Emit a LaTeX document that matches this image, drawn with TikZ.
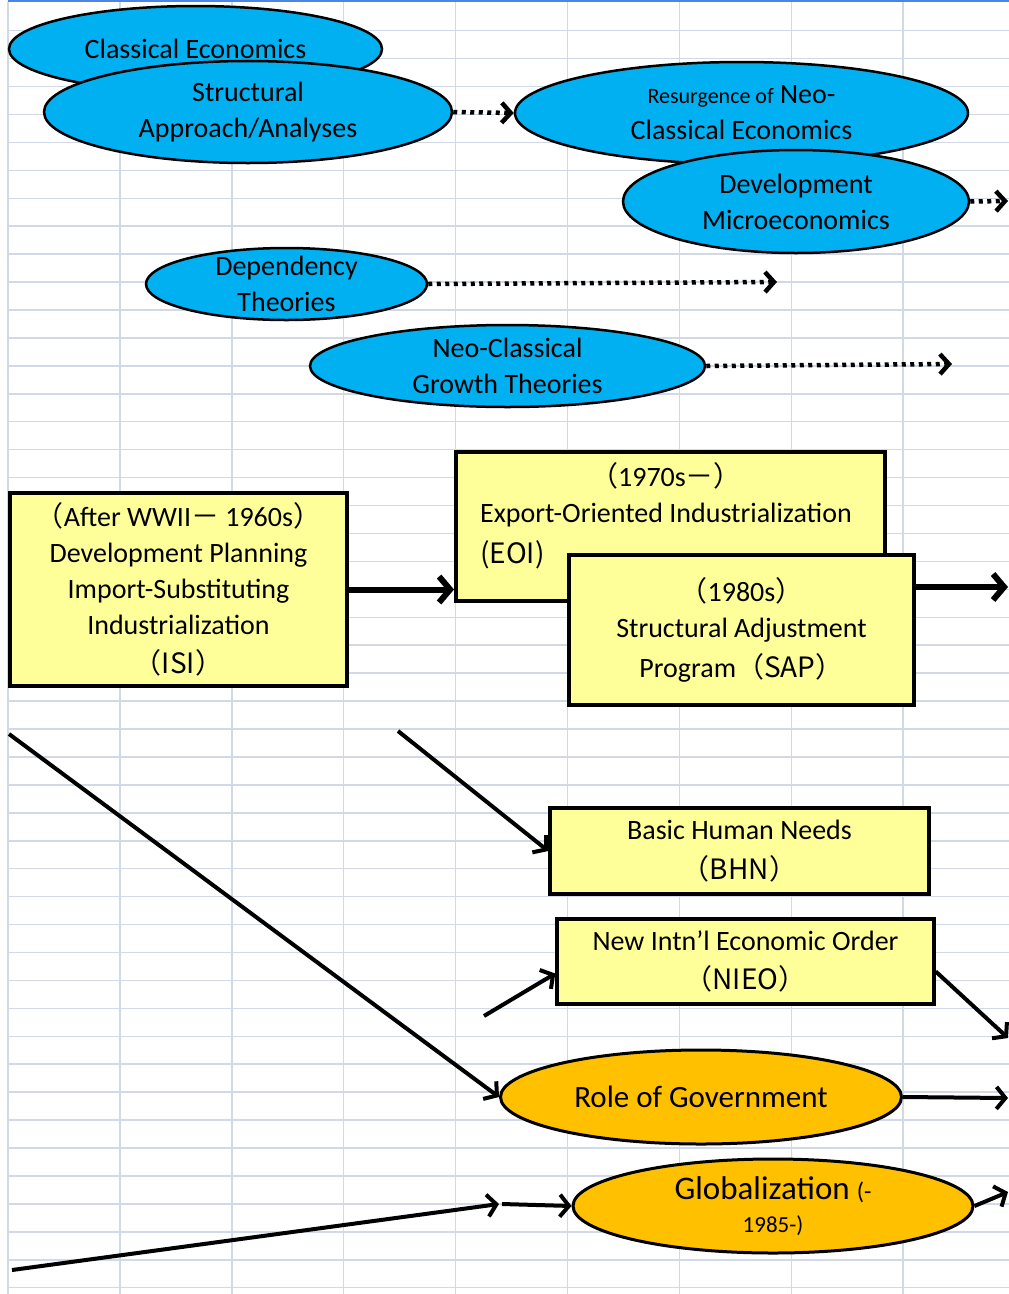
\documentclass[tikz,border=0pt]{standalone}
\usepackage{fontspec}
\setmainfont{Carlito}
\newfontfamily\jpfont{Noto Sans CJK JP}
\usetikzlibrary{shapes.geometric,arrows.meta}
\definecolor{gridcol}{RGB}{210,217,230}
\definecolor{topblue}{RGB}{74,134,232}
\definecolor{ellblue}{RGB}{0,176,240}
\definecolor{boxyellow}{RGB}{255,255,153}
\definecolor{ellorange}{RGB}{255,192,0}
\tikzset{gridline/.style={draw=gridcol,line width=1.5pt}}
\tikzset{blueell/.style={ellipse,draw=black,fill=ellblue,line width=2.5pt,inner sep=-15pt,align=center,font=\fontsize{28}{36}\selectfont}}
\tikzset{orangeell/.style={ellipse,draw=black,fill=ellorange,line width=3pt,inner sep=-15pt,align=center,font=\fontsize{31}{36}\selectfont}}
\tikzset{ybox/.style={rectangle,draw=black,fill=boxyellow,line width=4pt,inner sep=0pt,align=center,font=\fontsize{28}{36}\selectfont}}
\tikzset{dotarrow/.style={line width=4.5pt,dash pattern=on 4pt off 4.5pt,-{Straight Barb[length=9pt,width=20pt]}}}
\tikzset{thickarrow/.style={line width=6pt,-{Straight Barb[length=11pt,width=26pt]}}}
\tikzset{thinarrow/.style={line width=4pt,-{Straight Barb[length=9pt,width=22pt]}}}

\begin{document}
\begin{tikzpicture}[x=1pt,y=-1pt]
            \useasboundingbox (0,0) rectangle (1009,1294);
            % sheet grid
            \foreach \i in {0,...,8}
            {
                \draw[gridline] (8+111.9*\i,2) -- (8+111.9*\i,1294);
            }
            \foreach \j in {1,...,46}
            {
                \draw[gridline] (8,2.7+27.935*\j) -- (1009,2.7+27.935*\j);
            }
            \draw[topblue,line width=2.5pt] (8,1) -- (1009,1);
            % theories
            \node[blueell,minimum width=373pt,minimum height=86pt] (classical) at (195.5,49) {Classical Economics};
            \node[blueell,minimum width=408pt,minimum height=102pt] (struct) at (248,112) {Structural\\Approach/Analyses};
            \node[blueell,minimum width=453pt,minimum height=102pt] (resurg) at (741.5,113) {{\fontsize{22}{36}\selectfont Resurgence of} Neo-\\Classical Economics};
            \node[blueell,minimum width=346pt,minimum height=103pt] (devmicro) at (796,201.5) {Development\\Microeconomics};
            \node[blueell,minimum width=281pt,minimum height=72pt] (dep) at (286.5,284) {Dependency\\Theories};
            \node[blueell,minimum width=395pt,minimum height=82pt] (growth) at (507.5,366) {Neo-Classical\\Growth Theories};
            % policies
            \node[ybox,minimum width=337pt,minimum height=193pt] (isi) at (178.5,589.5) {{\jpfont（}After WWII{\jpfont －} 1960s{\jpfont ）}\\Development Planning\\Import-Substituting\\Industrialization\\[3pt]{\jpfont（ISI）}};
            \node[ybox,minimum width=429pt,minimum height=149pt] (eoi) at (670.5,526.5) {};
            \node[font=\fontsize{28}{36}\selectfont,inner sep=0pt] (eoitext) at (666,518) {\begin{tabular}{@{}l@{}}\multicolumn{1}{@{}c@{}}{{\jpfont（}1970s{\jpfont －）}}\\Export-Oriented Industrialization\\[5pt]{\jpfont (EOI)}\end{tabular}};
            \node[ybox,minimum width=345pt,minimum height=150pt] (sap) at (741.5,630) {{\jpfont（}1980s{\jpfont ）}\\Structural Adjustment\\[4pt]Program{\jpfont（SAP）}};
            \node[ybox,minimum width=379pt,minimum height=86pt,line width=3.5pt] (bhn) at (739.5,851) {Basic Human Needs\\[4pt]{\jpfont（BHN）}};
            \node[ybox,minimum width=377pt,minimum height=85pt,line width=3.5pt] (nieo) at (745.5,961.5) {New Intn'l Economic Order\\[3pt]{\jpfont（NIEO）}};
            % government
            \node[orangeell,minimum width=401pt,minimum height=94pt] (role) at (701,1097) {Role of Government};
            \node[orangeell,minimum width=400pt,minimum height=94pt] (glob) at (773,1206) {{\fontsize{33}{36}\selectfont Globalization} {\fontsize{24}{30}\selectfont(-}\\[-3pt]{\fontsize{23}{26}\selectfont 1985-)}};
            % connectors
            \coordinate (dm-end) at (1008,201);
            \coordinate (dep-end) at (777,282);
            \coordinate (growth-end) at (952,364);
            \coordinate (sap-end) at (1008,587);
            \coordinate (bhn-start) at (398,731);
            \coordinate (role-start) at (9,734);
            \coordinate (nieo-start) at (484,1016);
            \coordinate (nieo-end) at (1008,1038);
            \coordinate (role-end) at (1008,1098);
            \coordinate (glob-start) at (12,1270);
            \coordinate (glob-mid) at (499,1204);
            \coordinate (glob-end) at (1008,1192);
            \draw[dotarrow] (struct.east) -- (resurg.west);
            \draw[dotarrow] (devmicro.east) -- (dm-end);
            \draw[dotarrow] (dep.east) -- (dep-end);
            \draw[dotarrow] (growth.east) -- (growth-end);
            \draw[thickarrow] (isi.east) -- (isi.east -| eoi.west);
            \draw[thickarrow] (sap.east |- sap-end) -- (sap-end);
            \draw[thinarrow] (bhn-start) -- (bhn.west);
            \draw[thinarrow] (role-start) -- (role.west);
            \draw[thinarrow] (nieo-start) -- ([yshift=-12pt]nieo.west);
            \draw[thinarrow] ([yshift=-10pt]nieo.east) -- (nieo-end);
            \draw[thinarrow] (role.east) -- (role-end);
            \draw[thinarrow] (glob-start) -- (glob-mid);
            \draw[thinarrow] ([xshift=3pt]glob-mid) -- (glob.west);
            \draw[thinarrow] (glob.east) -- (glob-end);
\end{tikzpicture}
\end{document}
